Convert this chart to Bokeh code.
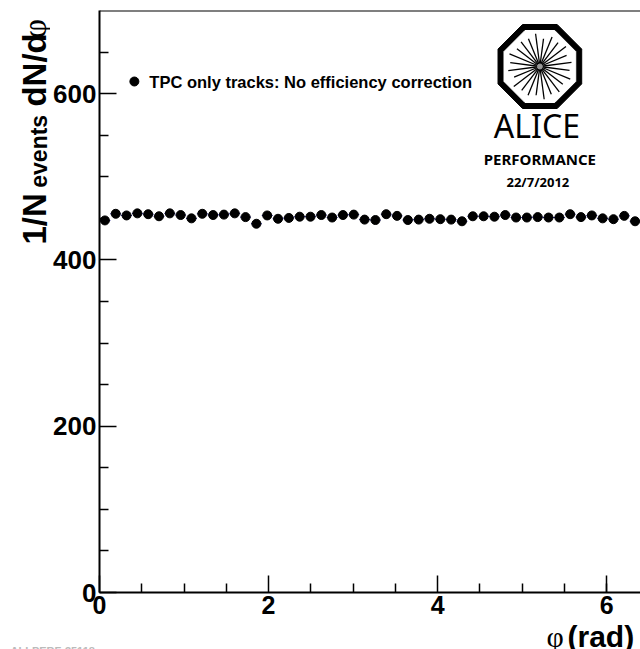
import numpy as np
from bokeh.plotting import figure
from bokeh.layouts import row, column
from bokeh.models import Range1d, FixedTicker, Label, ColumnDataSource, Span
from bokeh.embed import file_html
from bokeh.resources import INLINE
from bokeh.core.properties import value

# ---------------- data ----------------
phi_lo, phi_hi = 0.0, 6.4
n_bins = 50
counts = [447.5, 455.5, 453.5, 456.0, 455.0, 452.5, 456.0, 454.0, 450.0, 455.5,
          454.0, 454.5, 456.0, 451.5, 443.5, 453.5, 449.5, 450.5, 452.0, 452.0,
          454.0, 451.0, 454.0, 454.5, 448.5, 448.0, 455.0, 453.0, 448.0, 448.5,
          449.5, 449.0, 448.5, 446.5, 452.5, 452.5, 452.0, 454.0, 451.0, 451.0,
          451.5, 451.0, 451.0, 455.0, 451.5, 453.5, 450.0, 449.0, 453.0, 446.5]
x_major = [0, 2, 4, 6]
x_minor = [0.5, 1.0, 1.5, 2.5, 3.0, 3.5, 4.5, 5.0, 5.5, 6.0]
y_major = [0, 200, 400, 600]
y_minor = [50, 100, 150, 250, 300, 350, 450, 500, 550, 650]
legend_text = "TPC only tracks: No efficiency correction"
footer_text = "ALI-PERF-35118"

bin_w = (phi_hi - phi_lo) / n_bins
phi = [phi_lo + (i + 0.5) * bin_w for i in range(n_bins)]
src = ColumnDataSource(dict(
    phi=phi, counts=counts,
    x0=[v - bin_w / 2 for v in phi], x1=[v + bin_w / 2 for v in phi]))

FONT = "Liberation Sans"
SERIF = "Liberation Serif"

# ---------------- geometry ----------------
TOTAL_W, TOTAL_H = 640, 649
YW = 50                       # width of the y-title strip
MAIN_W = TOTAL_W - YW         # 590
ML, MR, MT, MB = 47, 0, 10, 32
FW = MAIN_W - ML - MR         # 543
FH = 582
MAIN_H = MT + FH + MB         # 624
XH = TOTAL_H - MAIN_H         # 25


def deco_fig(w, h):
    f = figure(width=w, height=h, x_range=Range1d(0, w), y_range=Range1d(0, h),
               output_backend="svg", toolbar_location=None, min_border=0,
               x_axis_type=None, y_axis_type=None)
    f.outline_line_color = None
    f.grid.visible = False
    f.background_fill_color = "white"
    f.border_fill_color = "white"
    return f


# ---------------- main figure ----------------
p = figure(width=MAIN_W, height=MAIN_H, x_range=Range1d(phi_lo, phi_hi), y_range=Range1d(0, 700),
           output_backend="svg", toolbar_location=None,
           min_border_left=ML, min_border_right=MR, min_border_top=MT, min_border_bottom=MB)
p.extra_x_ranges = {"px": Range1d(0, FW)}
p.extra_y_ranges = {"px": Range1d(0, FH)}
p.xgrid.visible = False
p.ygrid.visible = False
p.outline_line_color = None
p.background_fill_color = "white"
p.border_fill_color = "white"

for ax in (p.xaxis[0], p.yaxis[0]):
    ax.axis_line_width = 2
    ax.axis_line_color = "black"
    ax.major_tick_line_width = 1.5
    ax.minor_tick_line_width = 1.5
    ax.major_tick_out = 0
    ax.minor_tick_out = 0
    ax.major_tick_in = 17
    ax.minor_tick_in = 9
    ax.major_label_text_font = FONT
    ax.major_label_text_font_style = "bold"
    ax.major_label_text_color = "black"
p.xaxis.major_label_text_font_size = "25px"
p.yaxis.major_label_text_font_size = "26px"
p.xaxis.ticker = FixedTicker(ticks=x_major, minor_ticks=x_minor)
p.yaxis.ticker = FixedTicker(ticks=y_major, minor_ticks=y_minor)
p.xaxis.major_label_standoff = 3
p.yaxis.major_label_standoff = 3

p.add_layout(Span(location=700, dimension="width", line_color="black", line_width=2))

# data marks
p.segment(x0="x0", x1="x1", y0="counts", y1="counts", source=src,
          line_color="#000080", line_width=1)
p.scatter(x="phi", y="counts", source=src, size=9, color="black", marker="circle")

# legend (frame pixel coordinates)
p.scatter(x=[35], y=[511], x_range_name="px", y_range_name="px", size=9, color="black")
p.add_layout(Label(x=50, y=511, x_range_name="px", y_range_name="px", text=legend_text,
                   text_font=FONT, text_font_style="bold", text_font_size="16.5px",
                   text_baseline="middle", text_color="black"))

# ALICE logo
cx, cy = 442, 526
ang = np.deg2rad(22.5 + 45 * np.arange(8))
Ro = 42 / np.cos(np.pi / 8)
Ri = 36 / np.cos(np.pi / 8)
p.patch(list(cx + Ro * np.cos(ang)), list(cy + Ro * np.sin(ang)),
        x_range_name="px", y_range_name="px", color="black")
p.patch(list(cx + Ri * np.cos(ang)), list(cy + Ri * np.sin(ang)),
        x_range_name="px", y_range_name="px", color="white")
ra = np.deg2rad(7.5 + 15 * np.arange(24))
rlen = [32, 29, 33, 30, 32, 28, 33, 30, 31, 29, 33, 30, 32, 28, 33, 30, 31, 29, 33, 30, 32, 29, 33, 30]
p.segment(x0=list(cx + 2 * np.cos(ra)), y0=list(cy + 2 * np.sin(ra)),
          x1=[cx + r * np.cos(a) for r, a in zip(rlen, ra)],
          y1=[cy + r * np.sin(a) for r, a in zip(rlen, ra)],
          x_range_name="px", y_range_name="px", line_color="black", line_width=1.3)
p.scatter(x=[cx], y=[cy], x_range_name="px", y_range_name="px", size=5, color="#999999")

p.add_layout(Label(x=cx - 3, y=467, x_range_name="px", y_range_name="px", text="ALICE",
                   text_font="Noto Sans", text_font_size="32px", text_align="center",
                   text_baseline="middle", text_color="black"))
p.add_layout(Label(x=cx, y=434, x_range_name="px", y_range_name="px", text="PERFORMANCE",
                   text_font="Noto Sans", text_font_style="bold", text_font_size="15px",
                   text_align="center", text_baseline="middle", text_color="black"))
p.add_layout(Label(x=cx - 2, y=411, x_range_name="px", y_range_name="px", text="22/7/2012",
                   text_font="Noto Sans", text_font_style="bold", text_font_size="13px",
                   text_align="center", text_baseline="middle", text_color="black"))

# ---------------- y title strip ----------------
yf = deco_fig(YW, MAIN_H)
rot = np.pi / 2
yf.text(x=[34], y=[MAIN_H - 251], text=["1/N"], angle=rot, text_font=value(FONT),
        text_font_style="bold", text_font_size="33px", text_baseline="middle",
        text_color="black")
yf.text(x=[38], y=[MAIN_H - 190], text=["events"], angle=rot, text_font=value(FONT),
        text_font_style="bold", text_font_size="23px", text_baseline="middle",
        text_color="black")
yf.text(x=[34], y=[MAIN_H - 103], text=["dN/d"], angle=rot, text_font=value(FONT),
        text_font_style="bold", text_font_size="33px", text_baseline="middle",
        text_color="black")
yf.text(x=[34], y=[MAIN_H - 30], text=["φ"], angle=rot, text_font=value(SERIF),
        text_font_size="34px", text_baseline="middle", text_color="black")

# ---------------- x title strip ----------------
xf = deco_fig(TOTAL_W, XH)
xf.text(x=[546], y=[13], text=["φ"], text_font=value(SERIF), text_font_size="30px",
        text_baseline="middle", text_color="black")
xf.text(x=[567], y=[13], text=["(rad)"], text_font=value(FONT), text_font_style="bold",
        text_font_size="30px", text_baseline="middle", text_color="black")
xf.text(x=[10], y=[-1], text=[footer_text], text_font=value(FONT), text_font_style="bold",
        text_font_size="11px", text_baseline="middle", text_color="#bbbbbb")

layout = column(row(yf, p, spacing=0), xf, spacing=0)
open("out.html", "w").write(file_html(layout, INLINE))
